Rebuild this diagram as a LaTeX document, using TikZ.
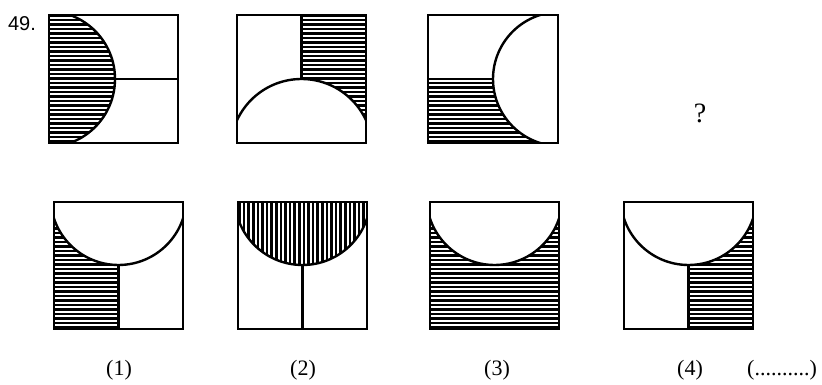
\documentclass[tikz,border=0pt]{standalone}
\usepackage{fontspec}
\setmainfont{Liberation Serif}
\newfontfamily\numfont{Liberation Sans}
\newcommand\hhatch[4]{\foreach \k in {0,...,30}{\draw[hline] (#1,#2+\k*4.5+1.5) -- (#3,#2+\k*4.5+1.5);}}
\newcommand\vhatch[4]{\foreach \k in {0,...,30}{\draw[hline] (#1+\k*4.6+1.5,#2) -- (#1+\k*4.6+1.5,#4);}}
\begin{document}
\begin{tikzpicture}[x=1pt,y=1pt,
  frame/.style={draw=black,line width=2.4pt},
  hline/.style={draw=black,line width=2.5pt},
  lbl/.style={font=\fontsize{22}{26}\selectfont,inner sep=0pt}]
\useasboundingbox[fill=white] (0,0) rectangle (822,385);

% ---------- Figure S1 ----------
\begin{scope}
  \clip (49,242) rectangle (178,370);
  \clip (47,306) circle (68);
  \hhatch{49}{242}{178}{370}
\end{scope}
\begin{scope}
  \clip (49,242) rectangle (178,370);
  \draw[frame] (47,306) circle (68);
\end{scope}
\draw[frame] (115,306) -- (178,306);
\draw[frame] (49,242) rectangle (178,370);

% ---------- Figure S2 ----------
\begin{scope}
  \clip (301.5,242) rectangle (366,370);
  \hhatch{301.5}{242}{366}{370}
\end{scope}
\begin{scope}
  \clip (237,242) rectangle (366,370);
  \fill[white] (301.5,235) circle (71);
  \draw[frame] (301.5,235) circle (71);
\end{scope}
\draw[frame] (301.5,306) -- (301.5,370);
\draw[frame] (237,242) rectangle (366,370);

% ---------- Figure S3 ----------
\begin{scope}
  \clip (428,242) rectangle (558,306);
  \hhatch{428}{242}{558}{306}
\end{scope}
\begin{scope}
  \clip (428,242) rectangle (558,370);
  \fill[white] (560,306) circle (67);
  \draw[frame] (560,306) circle (67);
\end{scope}
\draw[frame] (428,306) -- (493,306);
\draw[frame] (428,242) rectangle (558,370);

\node[font=\fontsize{28}{32}\selectfont,inner sep=0pt] (qm) at (700,272) {?};
\node[font=\numfont\fontsize{20}{24}\selectfont,inner sep=0pt] (num) at (22,361) {49.};

% ---------- Option 1 ----------
\begin{scope}
  \clip (54,56) rectangle (118.5,183);
  \hhatch{54}{56}{118.5}{183}
\end{scope}
\begin{scope}
  \clip (54,56) rectangle (183,183);
  \fill[white] (118.5,188) circle (68);
  \draw[frame] (118.5,188) circle (68);
\end{scope}
\draw[frame] (118.5,56) -- (118.5,120);
\draw[frame] (54,56) rectangle (183,183);

% ---------- Option 2 ----------
\begin{scope}
  \clip (238,56) rectangle (367,183);
  \clip (302.5,188) circle (68);
  \vhatch{238}{56}{367}{183}
\end{scope}
\begin{scope}
  \clip (238,56) rectangle (367,183);
  \draw[frame] (302.5,188) circle (68);
\end{scope}
\draw[frame] (302.5,56) -- (302.5,120);
\draw[frame] (238,56) rectangle (367,183);

% ---------- Option 3 ----------
\begin{scope}
  \clip (430,56) rectangle (559,183);
  \hhatch{430}{56}{559}{183}
\end{scope}
\begin{scope}
  \clip (430,56) rectangle (559,183);
  \fill[white] (494.5,188) circle (68);
  \draw[frame] (494.5,188) circle (68);
\end{scope}
\draw[frame] (430,56) rectangle (559,183);

% ---------- Option 4 ----------
\begin{scope}
  \clip (688.5,56) rectangle (753,183);
  \hhatch{688.5}{56}{753}{183}
\end{scope}
\begin{scope}
  \clip (624,56) rectangle (753,183);
  \fill[white] (688.5,188) circle (68);
  \draw[frame] (688.5,188) circle (68);
\end{scope}
\draw[frame] (688.5,56) -- (688.5,120);
\draw[frame] (624,56) rectangle (753,183);

% ---------- Labels ----------
\node[lbl] (l1) at (119,15) {(1)};
\node[lbl] (l2) at (303,15) {(2)};
\node[lbl] (l3) at (497,15) {(3)};
\node[lbl] (l4) at (690,15) {(4)};
\node[lbl] (l5) at (782,15) {(..........)};
\end{tikzpicture}
\end{document}
